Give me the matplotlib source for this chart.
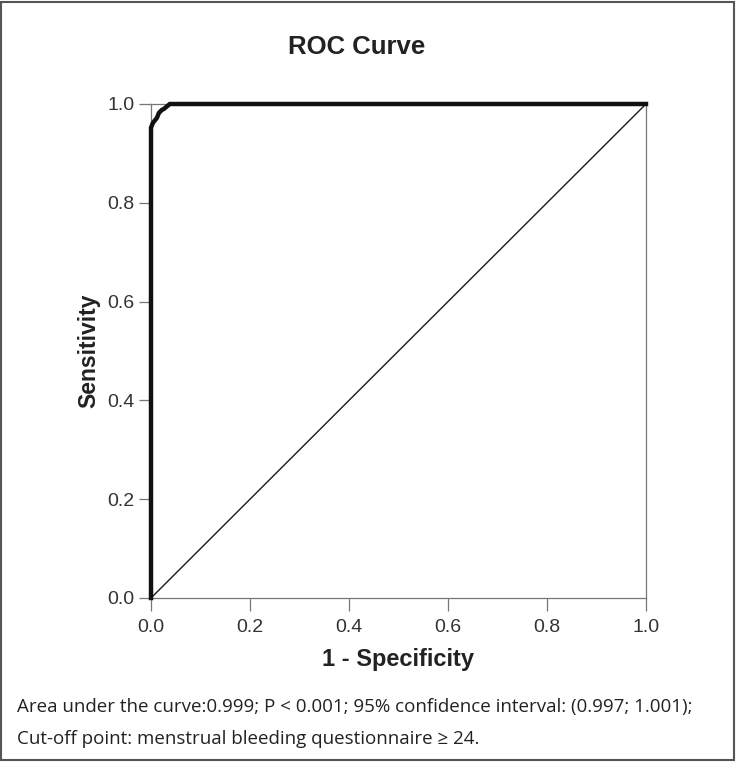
import matplotlib
matplotlib.use('Agg')
import matplotlib.pyplot as plt
from matplotlib.patches import Rectangle

# ROC curve points
fpr = [0.0, 0.0, 0.004, 0.012, 0.016, 0.022, 0.026, 0.038, 1.0]
tpr = [0.0, 0.952, 0.962, 0.972, 0.982, 0.988, 0.990, 1.0, 1.0]
ref_line = [0.0, 1.0]
ticks = [0.0, 0.2, 0.4, 0.6, 0.8, 1.0]

title = 'ROC Curve'
xlabel = '1 - Specificity'
ylabel = 'Sensitivity'
caption = ('Area under the curve:0.999; P < 0.001; 95% confidence interval: (0.997; 1.001);\n'
           'Cut-off point: menstrual bleeding questionnaire \u2265 24.')

fig = plt.figure(figsize=(7.36, 7.62), dpi=100)
ax = fig.add_axes([151 / 736, 1 - 598 / 762, 495 / 736, 494 / 762])

ax.plot(ref_line, ref_line, color='#1a1a1a', linewidth=1.0, zorder=2)
ax.plot(fpr, tpr, color='#111111', linewidth=3.2, solid_joinstyle='miter', zorder=3, clip_on=False)

ax.set_xlim(0, 1)
ax.set_ylim(0, 1)
ax.set_xticks(ticks)
ax.set_yticks(ticks)
ax.set_xticklabels([f'{t:.1f}' for t in ticks])
ax.set_yticklabels([f'{t:.1f}' for t in ticks])

for s in ax.spines.values():
    s.set_color('#777777')
    s.set_linewidth(0.9)
ax.tick_params(direction='out', length=9, width=0.9, color='#777777',
               labelsize=14, labelcolor='#333333', pad=3)
ax.tick_params(axis='x', pad=6)
for lab in ax.get_xticklabels() + ax.get_yticklabels():
    lab.set_family('Liberation Sans')

ax.set_xlabel(xlabel, fontsize=17, fontweight='bold', family='Liberation Sans',
              color='#222222', labelpad=9)
ax.set_ylabel(ylabel, fontsize=16.5, fontweight='bold', family='Liberation Sans',
              color='#222222', labelpad=5)
fig.text(357 / 736, 1 - 47 / 762, title, fontsize=18.5, fontweight='bold',
         family='Liberation Sans', color='#222222', ha='center', va='center')

fig.text(17 / 736, 1 - 723 / 762, caption, fontsize=13.5, family='Open Sans',
         color='#222222', ha='left', va='center', linespacing=2.0)

# outer frame
fig.patches.append(Rectangle((0.001, 0.002), 0.996, 0.996, transform=fig.transFigure,
                             fill=False, edgecolor='#555555', linewidth=1.5))

fig.savefig('out.png', dpi=100, facecolor='white')
